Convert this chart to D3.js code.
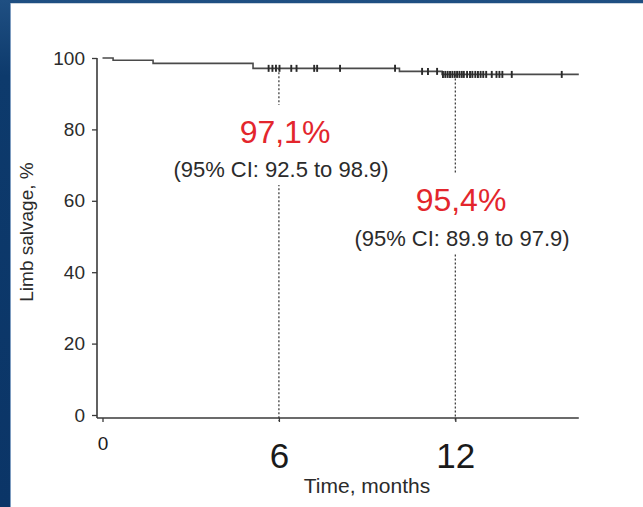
<!DOCTYPE html>
<html>
<head>
<meta charset="utf-8">
<script src="https://cdn.jsdelivr.net/npm/d3@7"></script>
<style>
  html, body { margin: 0; padding: 0; background: #ffffff; }
  svg { display: block; }
  text { font-family: "Liberation Sans", Arial, Helvetica, sans-serif; }
</style>
</head>
<body>
<svg id="chart" width="643" height="507"></svg>
<script>
// Kaplan–Meier estimate of limb salvage (months from procedure)
const eventTimes = [0, 0.36, 1.72, 5.12, 10.1, 11.55];
const survival   = [100, 99.35, 98.5, 97.1, 96.25, 95.4];
const followUpEnd = 16.2;

// censored observations (months)
const censorTimes = [
  5.65, 5.78, 5.9, 6.02, 6.42, 6.6, 7.2, 7.3, 8.08, 9.95,
  10.87, 11.07, 11.38,
  11.58, 11.66, 11.74, 11.82, 11.9, 11.98, 12.06, 12.14, 12.22, 12.29,
  12.4, 12.5, 12.58,
  12.68, 12.77, 12.86, 12.95, 13.05,
  13.24, 13.4, 13.5, 13.6, 13.92, 15.62
];

const yTicks = [0, 20, 40, 60, 80, 100];
const xTicks = [0, 6, 12];

// landmark estimates
const landmarkMonths = [6, 12];
const landmarkValues = [97.1, 95.4];
const landmarkCI = ["(95% CI: 92.5 to 98.9)", "(95% CI: 89.9 to 97.9)"];

const svg = d3.select("#chart");
const W = 643, H = 507;

// slide frame
const defs = svg.append("defs");
const grad = defs.append("linearGradient").attr("id", "frameBlue")
  .attr("x1", "0").attr("y1", "0").attr("x2", "0").attr("y2", "1");
grad.append("stop").attr("offset", "0").attr("stop-color", "#1f4f82");
grad.append("stop").attr("offset", "0.15").attr("stop-color", "#0d3a6c");
grad.append("stop").attr("offset", "1").attr("stop-color", "#0b3567");
svg.append("rect").attr("width", W).attr("height", H).attr("fill", "url(#frameBlue)");
svg.append("rect").attr("x", 10).attr("y", 3).attr("width", 2).attr("height", H - 3).attr("fill", "#7d9cc0");
svg.append("rect").attr("x", 11).attr("y", 3).attr("width", W - 11).attr("height", H - 3).attr("fill", "#ffffff");
svg.append("line").attr("x1", 11).attr("x2", W).attr("y1", 3.5).attr("y2", 3.5)
  .attr("stroke", "#c9d3de").attr("stroke-width", 1);

// scales
const axisX = 97, axisY = 418;
const x = d3.scaleLinear().domain([0, followUpEnd]).range([102.5, 578.8]);
const y = d3.scaleLinear().domain([0, 100]).range([415, 58]);

const survivalAt = t => {
  let v = survival[0];
  for (let i = 0; i < eventTimes.length; i++) if (eventTimes[i] <= t) v = survival[i];
  return v;
};

const ink = "#3a3a3a";

// y axis
const gy = svg.append("g").attr("transform", `translate(${axisX},0)`)
  .call(d3.axisLeft(y).tickValues(yTicks).tickSize(5).tickPadding(7).tickSizeOuter(0));
gy.select(".domain").remove();
gy.selectAll(".tick line").attr("stroke", ink).attr("stroke-width", 1.3);
gy.selectAll(".tick text").attr("fill", "#2b2b2b").attr("font-size", 19)
  .attr("font-family", "Liberation Sans, Arial, sans-serif");
svg.append("line").attr("x1", axisX).attr("x2", axisX)
  .attr("y1", y(100)).attr("y2", axisY)
  .attr("stroke", ink).attr("stroke-width", 1.6);

// x axis
const gx = svg.append("g").attr("transform", `translate(0,${axisY})`)
  .call(d3.axisBottom(x).tickValues(xTicks).tickSize(4).tickSizeOuter(0));
gx.select(".domain").remove();
gx.selectAll(".tick line").attr("stroke", ink).attr("stroke-width", 1.3);
gx.selectAll(".tick text")
  .attr("fill", "#1a1a1a")
  .attr("font-family", "Liberation Sans, Arial, sans-serif")
  .attr("font-size", d => d === 0 ? 19 : 35)
  .attr("y", d => d === 0 ? 19 : 25);
svg.append("line").attr("x1", axisX).attr("x2", x(followUpEnd))
  .attr("y1", axisY).attr("y2", axisY)
  .attr("stroke", ink).attr("stroke-width", 1.6);

// axis titles
svg.append("text")
  .attr("transform", "translate(33,232) rotate(-90)")
  .attr("text-anchor", "middle").attr("font-size", 19).attr("fill", "#2b2b2b")
  .text("Limb salvage, %");
svg.append("text")
  .attr("x", 367).attr("y", 493)
  .attr("text-anchor", "middle").attr("font-size", 21).attr("fill", "#2b2b2b")
  .text("Time, months");

// landmark drop lines
landmarkMonths.forEach((m, i) => {
  svg.append("line")
    .attr("x1", x(m)).attr("x2", x(m))
    .attr("y1", y(landmarkValues[i])).attr("y2", axisY + 3)
    .attr("stroke", "#333").attr("stroke-width", 1.2)
    .attr("stroke-dasharray", "2,2");
});

// survival curve
const stepPts = eventTimes.map((t, i) => [t, survival[i]]);
stepPts.push([followUpEnd, survival[survival.length - 1]]);
svg.append("path")
  .datum(stepPts)
  .attr("fill", "none").attr("stroke", "#4a4a4a").attr("stroke-width", 1.6)
  .attr("d", d3.line().x(d => x(d[0])).y(d => y(d[1])).curve(d3.curveStepAfter));

// censor marks
svg.append("g").selectAll("line")
  .data(censorTimes).join("line")
  .attr("x1", d => x(d)).attr("x2", d => x(d))
  .attr("y1", d => y(survivalAt(d)) - 3.5)
  .attr("y2", d => y(survivalAt(d)) + 3.5)
  .attr("stroke", "#2a2a2a").attr("stroke-width", 1.9);

// landmark labels: white backings first, then all text on top
const fmtPct = v => d3.format(".1f")(v).replace(".", ",") + "%";
const labelLayout = [
  { cx: 285, ciX: 281, base: 143, ciBase: 177 },
  { cx: 461, ciX: 462, base: 211, ciBase: 246 }
];
const bgLayer = svg.append("g");
const textLayer = svg.append("g");
landmarkMonths.forEach((m, i) => {
  const L = labelLayout[i];
  const bg = bgLayer.append("rect").attr("fill", "#ffffff");
  const t1 = textLayer.append("text")
    .attr("x", L.cx).attr("y", L.base)
    .attr("text-anchor", "middle").attr("font-size", 32).attr("fill", "#e3262d")
    .text(fmtPct(landmarkValues[i]));
  const t2 = textLayer.append("text")
    .attr("x", L.ciX).attr("y", L.ciBase)
    .attr("text-anchor", "middle").attr("font-size", 22).attr("fill", "#2b2b2b")
    .text(landmarkCI[i]);
  const b1 = t1.node().getBBox(), b2 = t2.node().getBBox();
  const x0 = Math.min(b1.x, b2.x), x1 = Math.max(b1.x + b1.width, b2.x + b2.width);
  bg.attr("x", x0 - 4).attr("y", b1.y - 9)
    .attr("width", x1 - x0 + 8).attr("height", b2.y + b2.height - b1.y + 12);
});
</script>
</body>
</html>
